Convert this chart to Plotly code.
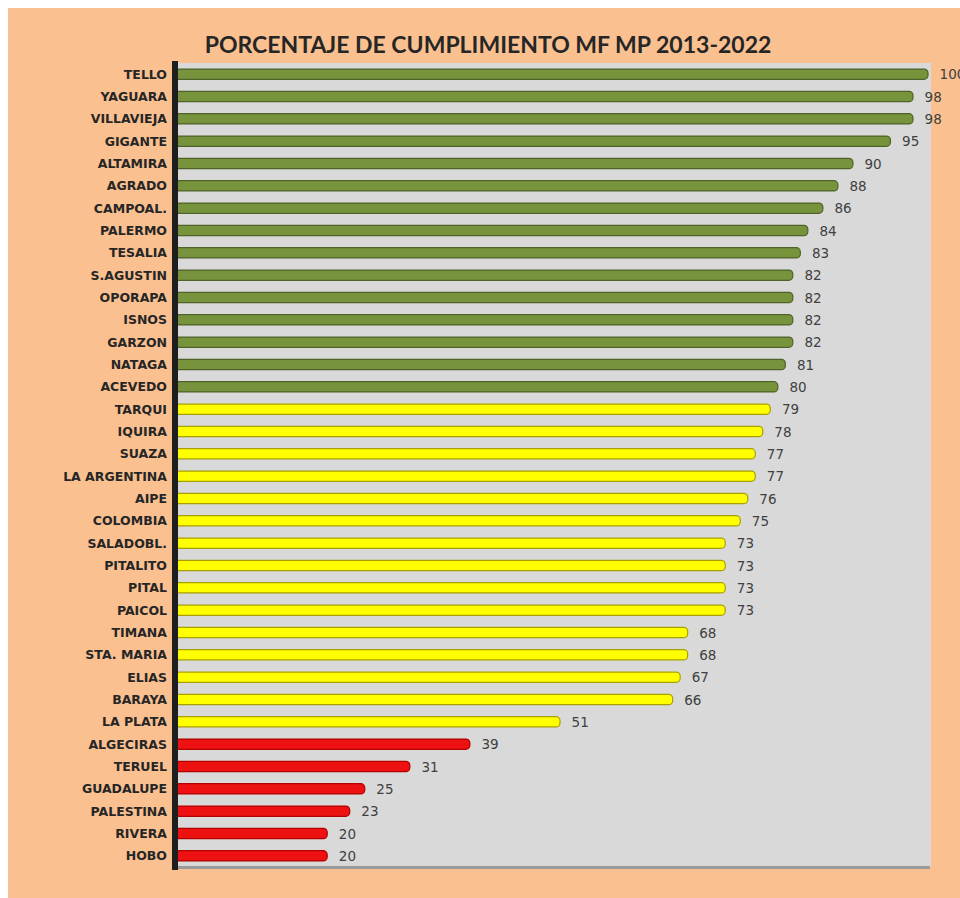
import plotly.graph_objects as go

# Compliance percentage per municipality, MF MP 2013-2022
municipios = [
    "TELLO", "YAGUARA", "VILLAVIEJA", "GIGANTE", "ALTAMIRA", "AGRADO",
    "CAMPOAL.", "PALERMO", "TESALIA", "S.AGUSTIN", "OPORAPA", "ISNOS",
    "GARZON", "NATAGA", "ACEVEDO", "TARQUI", "IQUIRA", "SUAZA",
    "LA ARGENTINA", "AIPE", "COLOMBIA", "SALADOBL.", "PITALITO", "PITAL",
    "PAICOL", "TIMANA", "STA. MARIA", "ELIAS", "BARAYA", "LA PLATA",
    "ALGECIRAS", "TERUEL", "GUADALUPE", "PALESTINA", "RIVERA", "HOBO",
]
cumplimiento = [
    100, 98, 98, 95, 90, 88,
    86, 84, 83, 82, 82, 82,
    82, 81, 80, 79, 78, 77,
    77, 76, 75, 73, 73, 73,
    73, 68, 68, 67, 66, 51,
    39, 31, 25, 23, 20, 20,
]

# Traffic-light bands
ALTO, MEDIO = 80, 50
VERDE, AMARILLO, ROJO = "#77933c", "#ffff00", "#ee1111"
BORDE = {VERDE: "#4f6228", AMARILLO: "#a8a000", ROJO: "#b00000"}


def banda(v):
    if v >= ALTO:
        return VERDE
    if v >= MEDIO:
        return AMARILLO
    return ROJO


colores = [banda(v) for v in cumplimiento]
bordes = [BORDE[c] for c in colores]

W, H = 960, 898
ML, MR, MT, MB = 177, 29, 63, 31
PW, PH = W - ML - MR, H - MT - MB
NARANJA = "#fac090"


def px_x(x):
    return (x - ML) / PW


def px_y(y):
    return (H - MB - y) / PH


fig = go.Figure(
    go.Bar(
        x=cumplimiento,
        y=municipios,
        orientation="h",
        width=0.46,
        marker=dict(color=colores, line=dict(color=bordes, width=1.2), cornerradius=4),
        texttemplate="  %{x}",
        textposition="outside",
        constraintext="none",
        cliponaxis=False,
        textfont=dict(family="DejaVu Sans", size=13.5, color="#404040"),
        hoverinfo="x+y",
    )
)

shapes = [
    # white frame strips (top and left)
    dict(type="rect", xref="paper", yref="paper", layer="below",
         x0=px_x(-2), x1=px_x(W + 2), y0=px_y(8), y1=px_y(-2),
         fillcolor="#ffffff", line=dict(width=0)),
    dict(type="rect", xref="paper", yref="paper", layer="below",
         x0=px_x(-2), x1=px_x(8), y0=px_y(H + 2), y1=px_y(-2),
         fillcolor="#ffffff", line=dict(width=0)),
    # floor shadow
    dict(type="rect", xref="paper", yref="paper", layer="above",
         x0=px_x(176), x1=px_x(930), y0=px_y(869), y1=px_y(866),
         fillcolor="#9a9a9a", line=dict(width=0)),
    # left wall
    dict(type="rect", xref="paper", yref="paper", layer="above",
         x0=px_x(172), x1=px_x(178), y0=px_y(870), y1=px_y(61),
         fillcolor="#1e1e1e", line=dict(width=0)),
]

fig.update_layout(
    width=W,
    height=H,
    margin=dict(l=ML, r=MR, t=MT, b=MB),
    paper_bgcolor=NARANJA,
    plot_bgcolor="#d9d9d9",
    showlegend=False,
    shapes=shapes,
    title=dict(
        text="PORCENTAJE DE CUMPLIMIENTO MF MP 2013-2022",
        x=488 / W,
        xanchor="center",
        y=1 - 45 / H,
        yanchor="middle",
        font=dict(family="Lato", size=23, color="#262626", weight="bold"),
    ),
    xaxis=dict(
        range=[0, 100.4],
        visible=False,
        showgrid=False,
        zeroline=False,
    ),
    yaxis=dict(
        autorange="reversed",
        showgrid=False,
        zeroline=False,
        showline=False,
        ticks="",
        ticklabelstandoff=9,
        tickfont=dict(family="DejaVu Sans", size=12.5, color="#262626", weight="bold"),
    ),
)

fig.write_html("out.html")
